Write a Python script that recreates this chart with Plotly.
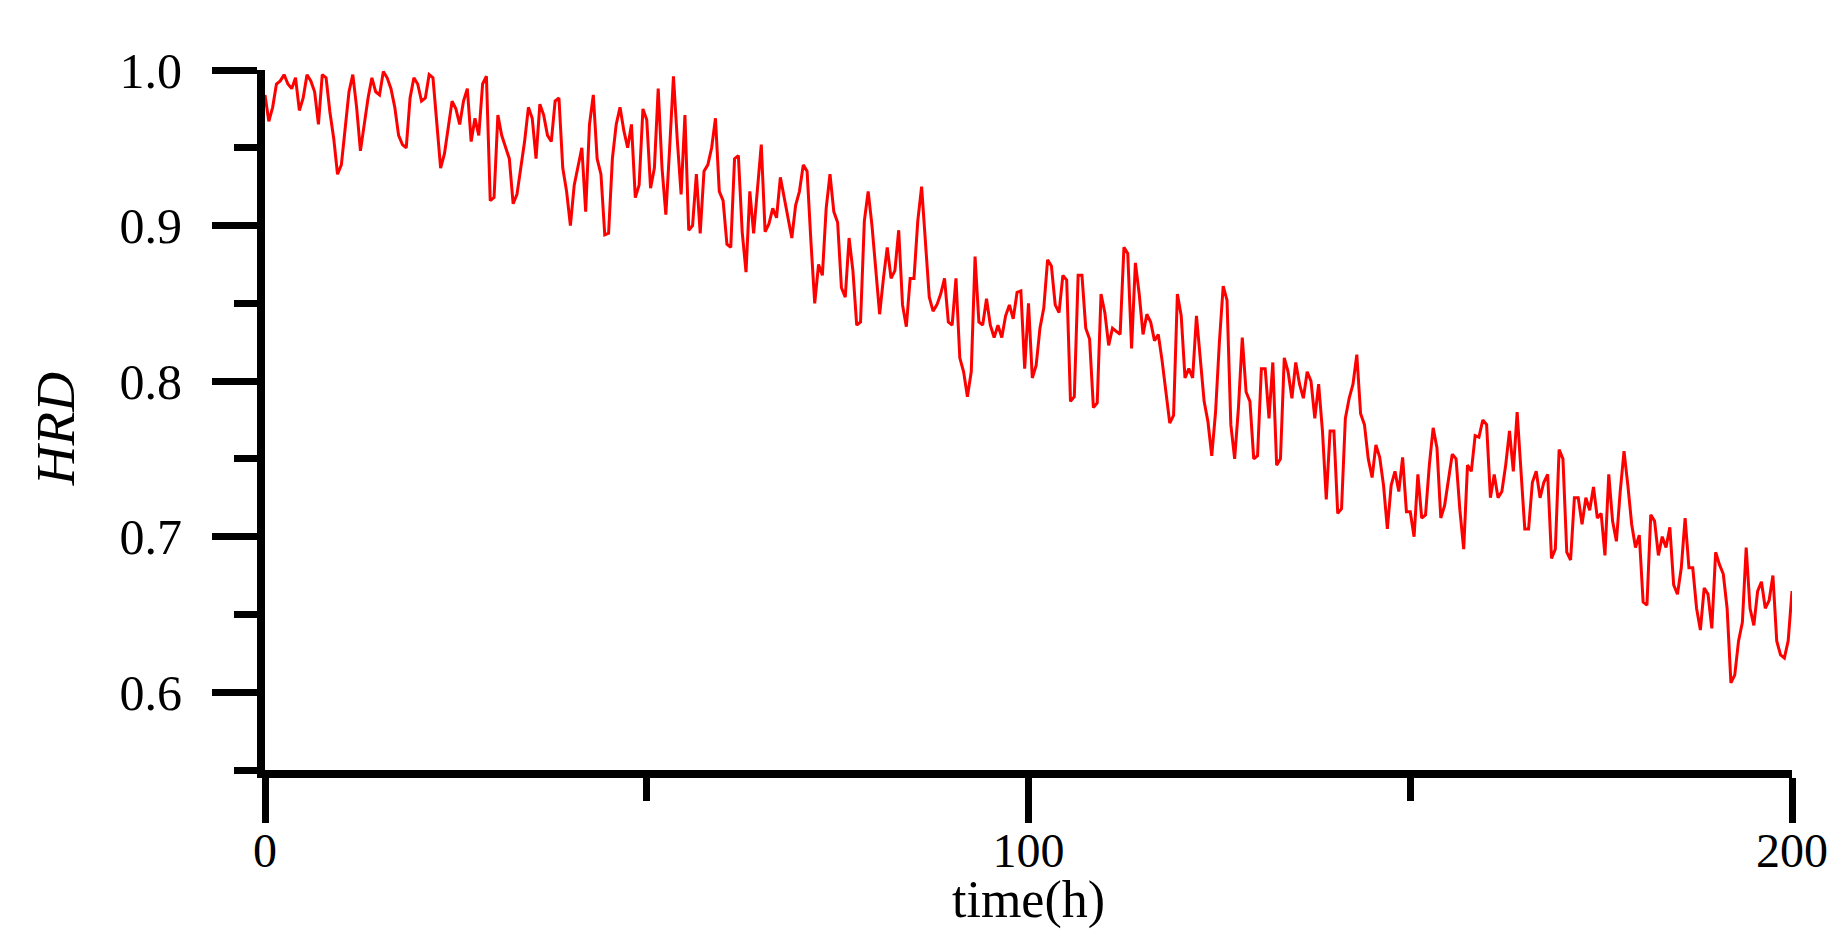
import plotly.graph_objects as go

# sampling times (h), every half hour, and HRD values
TIME_H = [i / 2 for i in range(401)]

HRD = [
    0.984, 0.967, 0.976, 0.991, 0.993, 0.997, 0.991, 0.988, 0.995, 0.974,
    0.982, 0.997, 0.993, 0.986, 0.965, 0.997, 0.995, 0.973, 0.956, 0.933,
    0.939, 0.965, 0.986, 0.997, 0.976, 0.948, 0.965, 0.982, 0.995, 0.986,
    0.984, 0.999, 0.995, 0.988, 0.976, 0.958, 0.952, 0.950, 0.982, 0.995,
    0.991, 0.980, 0.982, 0.997, 0.995, 0.965, 0.937, 0.946, 0.962, 0.980,
    0.975, 0.965, 0.980, 0.988, 0.954, 0.969, 0.958, 0.991, 0.996, 0.916,
    0.918, 0.971, 0.958, 0.950, 0.943, 0.914, 0.920, 0.937, 0.954, 0.976,
    0.969, 0.943, 0.978, 0.971, 0.958, 0.954, 0.980, 0.982, 0.937, 0.922,
    0.900, 0.926, 0.939, 0.950, 0.909, 0.965, 0.984, 0.943, 0.933, 0.894,
    0.895, 0.943, 0.965, 0.976, 0.961, 0.950, 0.965, 0.918, 0.926, 0.975,
    0.968, 0.924, 0.937, 0.988, 0.937, 0.907, 0.950, 0.996, 0.955, 0.920,
    0.971, 0.897, 0.900, 0.933, 0.895, 0.935, 0.939, 0.950, 0.969, 0.922,
    0.916, 0.888, 0.886, 0.943, 0.945, 0.896, 0.870, 0.922, 0.895, 0.926,
    0.952, 0.896, 0.901, 0.911, 0.905, 0.931, 0.918, 0.905, 0.892, 0.913,
    0.922, 0.939, 0.935, 0.890, 0.850, 0.875, 0.868, 0.911, 0.933, 0.909,
    0.902, 0.860, 0.854, 0.892, 0.871, 0.836, 0.838, 0.903, 0.922, 0.900,
    0.871, 0.843, 0.866, 0.886, 0.866, 0.871, 0.897, 0.849, 0.835, 0.866,
    0.866, 0.903, 0.925, 0.892, 0.854, 0.845, 0.849, 0.856, 0.866, 0.838,
    0.836, 0.866, 0.815, 0.806, 0.790, 0.806, 0.880, 0.838, 0.836, 0.853,
    0.836, 0.828, 0.836, 0.828, 0.842, 0.849, 0.840, 0.857, 0.858, 0.808,
    0.850, 0.802, 0.810, 0.834, 0.847, 0.878, 0.874, 0.849, 0.844, 0.868,
    0.865, 0.787, 0.790, 0.868, 0.868, 0.834, 0.827, 0.783, 0.786, 0.856,
    0.844, 0.823, 0.834, 0.832, 0.830, 0.886, 0.882, 0.821, 0.876, 0.856,
    0.830, 0.843, 0.838, 0.826, 0.830, 0.813, 0.791, 0.773, 0.778, 0.856,
    0.842, 0.802, 0.808, 0.802, 0.842, 0.813, 0.787, 0.774, 0.752, 0.780,
    0.825, 0.861, 0.852, 0.772, 0.750, 0.783, 0.828, 0.793, 0.787, 0.750,
    0.752, 0.808, 0.808, 0.776, 0.812, 0.746, 0.750, 0.815, 0.806, 0.789,
    0.812, 0.798, 0.789, 0.806, 0.800, 0.776, 0.798, 0.768, 0.724, 0.768,
    0.768, 0.715, 0.718, 0.776, 0.789, 0.798, 0.817, 0.779, 0.772, 0.750,
    0.738, 0.759, 0.751, 0.733, 0.705, 0.733, 0.742, 0.729, 0.751, 0.716,
    0.716, 0.700, 0.740, 0.712, 0.714, 0.746, 0.770, 0.757, 0.712, 0.720,
    0.738, 0.753, 0.750, 0.717, 0.692, 0.746, 0.742, 0.765, 0.764, 0.775,
    0.772, 0.725, 0.740, 0.725, 0.729, 0.746, 0.768, 0.742, 0.780, 0.742,
    0.705, 0.705, 0.735, 0.742, 0.725, 0.735, 0.740, 0.686, 0.692, 0.756,
    0.750, 0.690, 0.685, 0.725, 0.725, 0.708, 0.725, 0.717, 0.732, 0.712,
    0.715, 0.688, 0.740, 0.710, 0.697, 0.729, 0.755, 0.733, 0.708, 0.693,
    0.701, 0.658, 0.656, 0.714, 0.710, 0.688, 0.700, 0.693, 0.706, 0.669,
    0.663, 0.680, 0.712, 0.680, 0.680, 0.654, 0.640, 0.667, 0.663, 0.641,
    0.690, 0.682, 0.676, 0.654, 0.606, 0.611, 0.633, 0.645, 0.693, 0.654,
    0.643, 0.665, 0.671, 0.654, 0.659, 0.675, 0.633, 0.624, 0.622, 0.633,
    0.665,
]

X_TICKS = [0, 100, 200]
Y_TICKS = [0.6, 0.7, 0.8, 0.9, 1.0]

FONT = "Liberation Serif"

fig = go.Figure()
fig.add_trace(go.Scatter(
    x=TIME_H,
    y=HRD,
    mode="lines",
    line=dict(color="#ff0000", width=3),
    showlegend=False,
))

axis_common = dict(
    showline=True,
    linecolor="black",
    linewidth=8,
    ticks="outside",
    ticklen=45,
    tickwidth=7,
    tickcolor="black",
    showgrid=False,
    zeroline=False,
)

fig.update_xaxes(
    range=[0, 200],
    tickvals=X_TICKS,
    ticktext=[str(v) for v in X_TICKS],
    tickfont=dict(family=FONT, size=48, color="black"),
    minor=dict(ticks="outside", ticklen=23, tickwidth=7, tickcolor="black", dtick=50, tick0=0),
    ticklabelstandoff=-14,
    **axis_common,
)
fig.update_yaxes(
    range=[0.55, 1.0],
    tickvals=Y_TICKS,
    ticktext=["%.1f" % v for v in Y_TICKS],
    tickfont=dict(family=FONT, size=50, color="black"),
    minor=dict(ticks="outside", ticklen=23, tickwidth=7, tickcolor="black", dtick=0.05, tick0=0.55),
    ticklabelstandoff=20,
    **axis_common,
)

fig.add_annotation(
    text="time(h)", xref="paper", yref="paper", x=0.5, y=-0.186,
    showarrow=False, xanchor="center", yanchor="middle",
    font=dict(family=FONT, size=52, color="black"),
)
fig.add_annotation(
    text="<i>HRD</i>", xref="paper", yref="paper", x=-0.1375, y=0.487,
    showarrow=False, xanchor="center", yanchor="middle", textangle=-90,
    font=dict(family=FONT, size=55, color="black"),
)

fig.update_layout(
    width=1846,
    height=943,
    autosize=False,
    margin=dict(l=257, r=62, t=62, b=181),
    plot_bgcolor="white",
    paper_bgcolor="white",
)

fig.write_html("out.html")
